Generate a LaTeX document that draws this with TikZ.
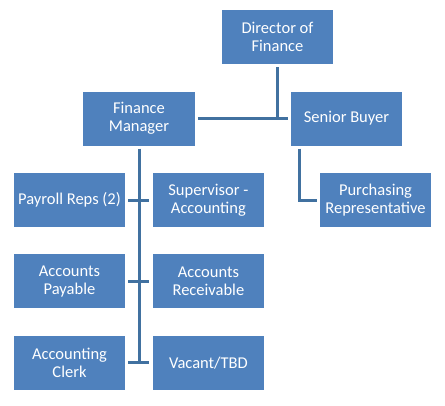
\documentclass[tikz,border=0pt]{standalone}
\usepackage{fontspec}
\setmainfont{Carlito}
\usepackage{xcolor}
\usepackage{tikz}
\definecolor{boxblue}{RGB}{79,129,189}
\definecolor{lineblue}{RGB}{65,113,160}
\usetikzlibrary{positioning,calc}

\begin{document}
\begin{tikzpicture}[
    x=1pt, y=-1pt,
    node distance=27pt,
    box/.style={rectangle, minimum width=111.5pt, minimum height=54pt, inner sep=2pt, align=center, fill=boxblue, text=white, font=\fontsize{16.5}{18}\selectfont},
    link/.style={lineblue, line width=3pt, shorten <=3pt, shorten >=3pt}
]

\useasboundingbox (0,0) rectangle (445,405);

% top level
\node[box] (dir) at (277.5,37) {Director of\\Finance};
\node[box] (fm) at (139,118.5) {Finance\\Manager};
\node[box] (sb) at (346.5,118.5) {Senior Buyer};

% staff
\node[box] (payroll) at (69.5,200) {Payroll Reps (2)};
\node[box, right=of payroll] (superv) {Supervisor -\\Accounting};
\node[box, below=of payroll] (ap) {Accounts\\Payable};
\node[box, right=of ap] (ar) {Accounts\\Receivable};
\node[box, below=of ap] (clerk) {Accounting\\Clerk};
\node[box, right=of clerk] (vacant) {Vacant/TBD};
\node[box] (purch) at (375.5,200) {Purchasing\\Representative};

\coordinate (sbtap) at ([xshift=9pt]sb.south west);

% connectors
\draw[link, shorten >=0pt] (dir.south) -- (dir.south |- fm.east);
\draw[link] (fm.east) -- (sb.west);
\draw[link, shorten >=-1.5pt] (fm.south) -- (fm.south |- clerk.east);
\draw[link] (payroll) -- (superv);
\draw[link] (ap) -- (ar);
\draw[link] (clerk) -- (vacant);
\draw[link] (sbtap) |- (purch.west);

\end{tikzpicture}
\end{document}
